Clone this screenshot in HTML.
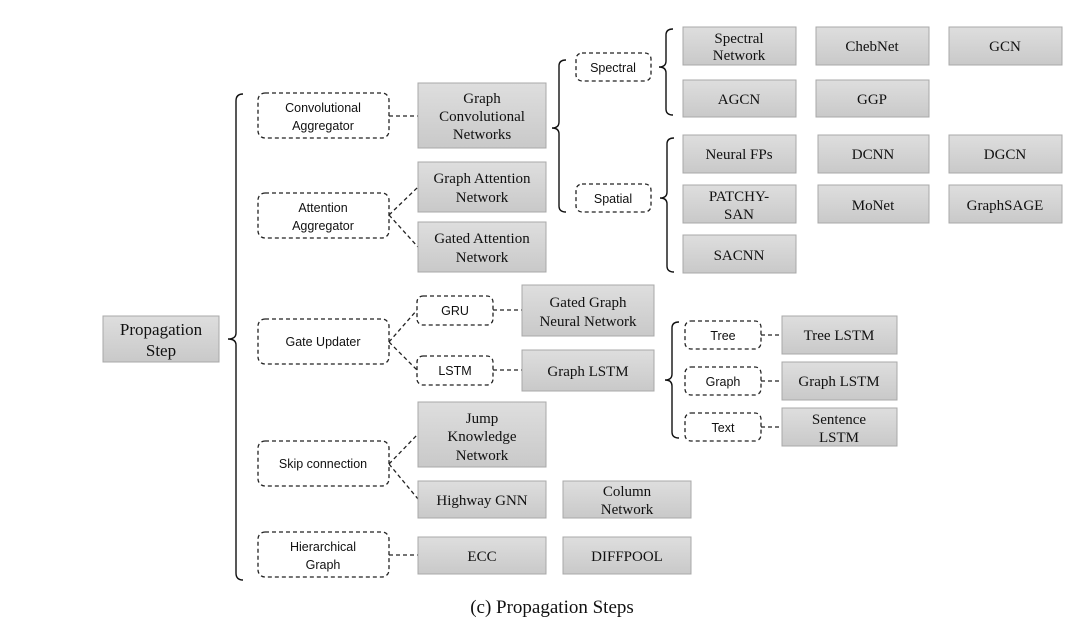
<!DOCTYPE html>
<html><head><meta charset="utf-8"><style>
html,body{margin:0;padding:0;background:#fff;width:1087px;height:628px;overflow:hidden}
.g{fill:url(#gr);stroke:#a8a8a8;stroke-width:1}
.d{fill:#fff;stroke:#222;stroke-width:1.3;stroke-dasharray:4,3}
.c{fill:none;stroke:#222;stroke-width:1.3;stroke-dasharray:4,3}
.b{fill:none;stroke:#111;stroke-width:1.4}
.s{font-family:"Liberation Sans",sans-serif;font-size:12.5px;fill:#111;text-anchor:middle}
.t{font-family:"Liberation Serif",serif;font-size:15px;fill:#111;text-anchor:middle}
</style></head><body>
<svg width="1087" height="628" viewBox="0 0 1087 628" xmlns="http://www.w3.org/2000/svg">
<defs><linearGradient id="gr" x1="0" y1="0" x2="0" y2="1"><stop offset="0" stop-color="#dedede"/><stop offset="1" stop-color="#c9c9c9"/></linearGradient></defs>

<!-- braces -->
<path class="b" d="M243,94 Q236,94 236,101 L236,333 Q236,339 228,339 Q236,339 236,345 L236,573 Q236,580 243,580"/>
<path class="b" d="M566,60 Q559,60 559,66 L559,122 Q559,128 552,128 Q559,128 559,134 L559,206 Q559,212 566,212"/>
<path class="b" d="M673,29 Q666,29 666,35 L666,61 Q666,67 659,67 Q666,67 666,73 L666,109 Q666,115 673,115"/>
<path class="b" d="M674,138 Q667,138 667,144 L667,192 Q667,198 660,198 Q667,198 667,204 L667,266 Q667,272 674,272"/>
<path class="b" d="M679,322 Q672,322 672,328 L672,374 Q672,380 665,380 Q672,380 672,386 L672,432 Q672,438 679,438"/>

<!-- connectors -->
<path class="c" d="M389,116 L418,116"/>
<path class="c" d="M389,215 L418,187 M389,215 L418,247"/>
<path class="c" d="M389,342 L417,310 M389,342 L417,370"/>
<path class="c" d="M493,310 L522,310 M493,370 L522,370"/>
<path class="c" d="M761,335 L782,335 M761,381 L782,381 M761,427 L782,427"/>
<path class="c" d="M389,464 L418,434 M389,464 L418,499"/>
<path class="c" d="M389,555 L418,555"/>

<!-- main -->
<rect class="g" x="103" y="316" width="116" height="46"/>
<text class="t" style="font-size:17px" x="161" y="335">Propagation</text>
<text class="t" style="font-size:17px" x="161" y="356">Step</text>

<!-- dashed -->
<rect class="d" x="258" y="93" width="131" height="45" rx="7"/>
<text class="s" x="323" y="112">Convolutional</text><text class="s" x="323" y="130">Aggregator</text>
<rect class="d" x="258" y="193" width="131" height="45" rx="7"/>
<text class="s" x="323" y="212">Attention</text><text class="s" x="323" y="230">Aggregator</text>
<rect class="d" x="258" y="319" width="131" height="45" rx="7"/>
<text class="s" x="323" y="346">Gate Updater</text>
<rect class="d" x="258" y="441" width="131" height="45" rx="7"/>
<text class="s" x="323" y="468">Skip connection</text>
<rect class="d" x="258" y="532" width="131" height="45" rx="7"/>
<text class="s" x="323" y="551">Hierarchical</text><text class="s" x="323" y="569">Graph</text>
<rect class="d" x="576" y="53" width="75" height="28" rx="6"/><text class="s" x="613" y="72">Spectral</text>
<rect class="d" x="576" y="184" width="75" height="28" rx="6"/><text class="s" x="613" y="203">Spatial</text>
<rect class="d" x="417" y="296" width="76" height="29" rx="6"/><text class="s" x="455" y="315">GRU</text>
<rect class="d" x="417" y="356" width="76" height="29" rx="6"/><text class="s" x="455" y="375">LSTM</text>
<rect class="d" x="685" y="321" width="76" height="28" rx="6"/><text class="s" x="723" y="340">Tree</text>
<rect class="d" x="685" y="367" width="76" height="28" rx="6"/><text class="s" x="723" y="386">Graph</text>
<rect class="d" x="685" y="413" width="76" height="28" rx="6"/><text class="s" x="723" y="432">Text</text>

<!-- gray boxes -->
<rect class="g" x="418" y="83" width="128" height="65"/>
<text class="t" x="482" y="103">Graph</text><text class="t" x="482" y="121">Convolutional</text><text class="t" x="482" y="139">Networks</text>
<rect class="g" x="418" y="162" width="128" height="50"/>
<text class="t" x="482" y="183">Graph Attention</text><text class="t" x="482" y="202">Network</text>
<rect class="g" x="418" y="222" width="128" height="50"/>
<text class="t" x="482" y="243">Gated Attention</text><text class="t" x="482" y="262">Network</text>

<rect class="g" x="683" y="27" width="113" height="38"/>
<text class="t" x="739" y="43">Spectral</text><text class="t" x="739" y="60">Network</text>
<rect class="g" x="816" y="27" width="113" height="38"/><text class="t" x="872" y="51">ChebNet</text>
<rect class="g" x="949" y="27" width="113" height="38"/><text class="t" x="1005" y="51">GCN</text>
<rect class="g" x="683" y="80" width="113" height="37"/><text class="t" x="739" y="104">AGCN</text>
<rect class="g" x="816" y="80" width="113" height="37"/><text class="t" x="872" y="104">GGP</text>

<rect class="g" x="683" y="135" width="113" height="38"/><text class="t" x="739" y="159">Neural FPs</text>
<rect class="g" x="818" y="135" width="111" height="38"/><text class="t" x="873" y="159">DCNN</text>
<rect class="g" x="949" y="135" width="113" height="38"/><text class="t" x="1005" y="159">DGCN</text>
<rect class="g" x="683" y="185" width="113" height="38"/>
<text class="t" x="739" y="201">PATCHY-</text><text class="t" x="739" y="219">SAN</text>
<rect class="g" x="818" y="185" width="111" height="38"/><text class="t" x="873" y="210">MoNet</text>
<rect class="g" x="949" y="185" width="113" height="38"/><text class="t" x="1005" y="210">GraphSAGE</text>
<rect class="g" x="683" y="235" width="113" height="38"/><text class="t" x="739" y="260">SACNN</text>

<rect class="g" x="522" y="285" width="132" height="51"/>
<text class="t" x="588" y="307">Gated Graph</text><text class="t" x="588" y="326">Neural Network</text>
<rect class="g" x="522" y="350" width="132" height="41"/><text class="t" x="588" y="376">Graph LSTM</text>

<rect class="g" x="782" y="316" width="115" height="38"/><text class="t" x="839" y="340">Tree LSTM</text>
<rect class="g" x="782" y="362" width="115" height="38"/><text class="t" x="839" y="386">Graph LSTM</text>
<rect class="g" x="782" y="408" width="115" height="38"/>
<text class="t" x="839" y="424">Sentence</text><text class="t" x="839" y="442">LSTM</text>

<rect class="g" x="418" y="402" width="128" height="65"/>
<text class="t" x="482" y="423">Jump</text><text class="t" x="482" y="441">Knowledge</text><text class="t" x="482" y="460">Network</text>
<rect class="g" x="418" y="481" width="128" height="37"/><text class="t" x="482" y="505">Highway GNN</text>
<rect class="g" x="563" y="481" width="128" height="37"/>
<text class="t" x="627" y="496">Column</text><text class="t" x="627" y="514">Network</text>
<rect class="g" x="418" y="537" width="128" height="37"/><text class="t" x="482" y="561">ECC</text>
<rect class="g" x="563" y="537" width="128" height="37"/><text class="t" x="627" y="561">DIFFPOOL</text>

<text class="t" style="font-size:19px" x="552" y="613">(c) Propagation Steps</text>
</svg>
</body></html>
